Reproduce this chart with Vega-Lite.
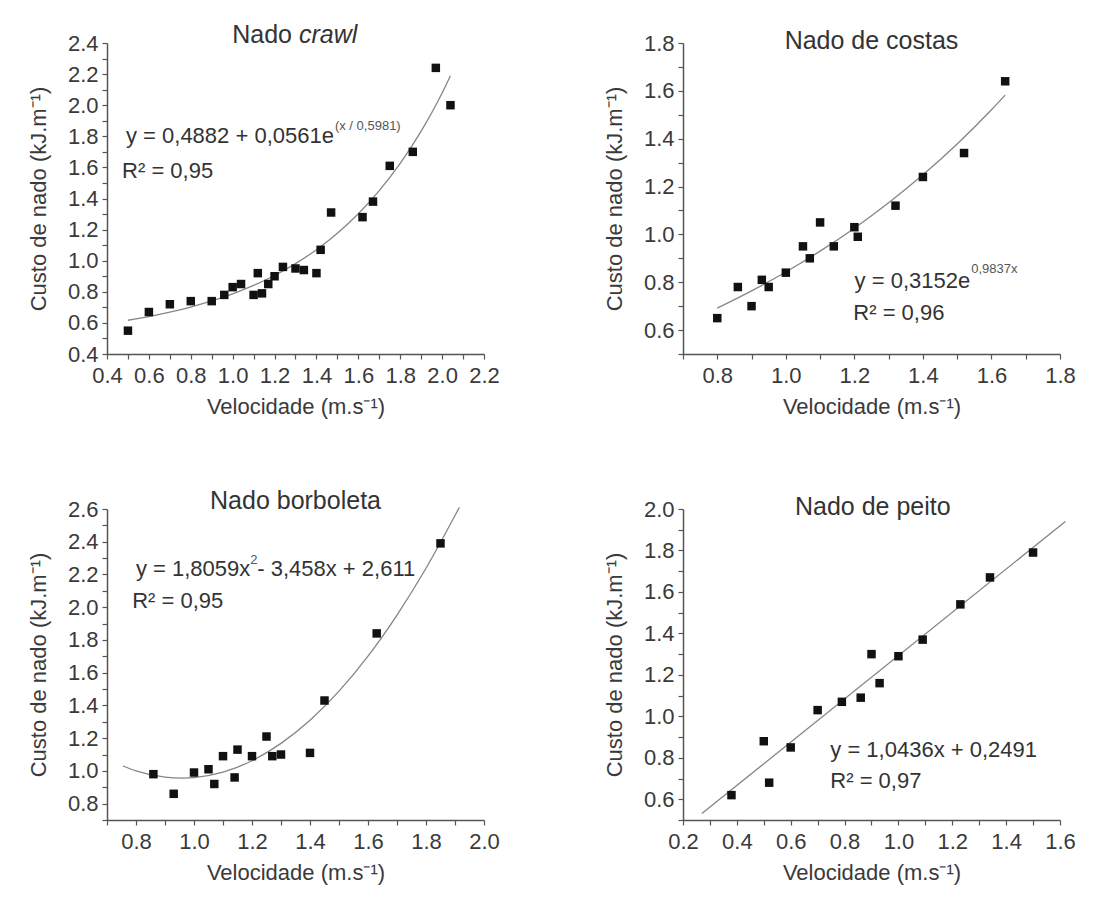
{
  "$schema": "https://vega.github.io/schema/vega-lite/v6.json",
  "background": "white",
  "padding": {"left": 27, "top": 23, "right": 5, "bottom": 5},
  "config": {
    "view": {"stroke": null},
    "font": "Liberation Sans",
    "axis": {
      "grid": false,
      "domainColor": "#555555",
      "domainWidth": 1.5,
      "tickColor": "#555555",
      "tickWidth": 1.2,
      "tickSize": 5,
      "labelFont": "Liberation Sans",
      "labelFontSize": 22,
      "labelColor": "#3a3a3a",
      "labelFlush": false,
      "labelOverlap": false,
      "titleFont": "Liberation Sans",
      "titleFontSize": 22,
      "titleFontWeight": "normal",
      "titleColor": "#3a3a3a"
    },
    "axisX": {"labelPadding": 6, "titlePadding": 10},
    "axisY": {"labelPadding": 4, "titlePadding": 17}
  },
  "datasets": {
    "crawl": [
      {"v": 0.50, "c": 0.55}, {"v": 0.60, "c": 0.67}, {"v": 0.70, "c": 0.72}, {"v": 0.80, "c": 0.74},
      {"v": 0.90, "c": 0.74}, {"v": 0.96, "c": 0.78}, {"v": 1.00, "c": 0.83}, {"v": 1.04, "c": 0.85},
      {"v": 1.10, "c": 0.78}, {"v": 1.12, "c": 0.92}, {"v": 1.14, "c": 0.79}, {"v": 1.17, "c": 0.85},
      {"v": 1.20, "c": 0.90}, {"v": 1.24, "c": 0.96}, {"v": 1.30, "c": 0.95}, {"v": 1.34, "c": 0.94},
      {"v": 1.40, "c": 0.92}, {"v": 1.42, "c": 1.07}, {"v": 1.47, "c": 1.31}, {"v": 1.62, "c": 1.28},
      {"v": 1.67, "c": 1.38}, {"v": 1.75, "c": 1.61}, {"v": 1.86, "c": 1.70}, {"v": 1.97, "c": 2.24},
      {"v": 2.04, "c": 2.00}
    ],
    "crawl_fit": [
      {"v": 0.5, "c": 0.617}, {"v": 0.6, "c": 0.641}, {"v": 0.7, "c": 0.669}, {"v": 0.8, "c": 0.702},
      {"v": 0.9, "c": 0.741}, {"v": 1.0, "c": 0.787}, {"v": 1.1, "c": 0.841}, {"v": 1.2, "c": 0.905},
      {"v": 1.3, "c": 0.981}, {"v": 1.4, "c": 1.071}, {"v": 1.5, "c": 1.177}, {"v": 1.6, "c": 1.302},
      {"v": 1.7, "c": 1.451}, {"v": 1.8, "c": 1.626}, {"v": 1.9, "c": 1.833}, {"v": 2.0, "c": 2.078},
      {"v": 2.04, "c": 2.19}
    ],
    "costas": [
      {"v": 0.80, "c": 0.65}, {"v": 0.86, "c": 0.78}, {"v": 0.90, "c": 0.70}, {"v": 0.93, "c": 0.81},
      {"v": 0.95, "c": 0.78}, {"v": 1.00, "c": 0.84}, {"v": 1.05, "c": 0.95}, {"v": 1.07, "c": 0.90},
      {"v": 1.10, "c": 1.05}, {"v": 1.14, "c": 0.95}, {"v": 1.20, "c": 1.03}, {"v": 1.21, "c": 0.99},
      {"v": 1.32, "c": 1.12}, {"v": 1.40, "c": 1.24}, {"v": 1.52, "c": 1.34}, {"v": 1.64, "c": 1.64}
    ],
    "costas_fit": [
      {"v": 0.8, "c": 0.692}, {"v": 0.9, "c": 0.764}, {"v": 1.0, "c": 0.843}, {"v": 1.1, "c": 0.930},
      {"v": 1.2, "c": 1.026}, {"v": 1.3, "c": 1.132}, {"v": 1.4, "c": 1.249}, {"v": 1.5, "c": 1.378},
      {"v": 1.6, "c": 1.521}, {"v": 1.64, "c": 1.582}
    ],
    "borboleta": [
      {"v": 0.86, "c": 0.98}, {"v": 0.93, "c": 0.86}, {"v": 1.00, "c": 0.99}, {"v": 1.05, "c": 1.01},
      {"v": 1.07, "c": 0.92}, {"v": 1.10, "c": 1.09}, {"v": 1.14, "c": 0.96}, {"v": 1.15, "c": 1.13},
      {"v": 1.20, "c": 1.09}, {"v": 1.25, "c": 1.21}, {"v": 1.27, "c": 1.09}, {"v": 1.30, "c": 1.10},
      {"v": 1.40, "c": 1.11}, {"v": 1.45, "c": 1.43}, {"v": 1.63, "c": 1.84}, {"v": 1.85, "c": 2.39}
    ],
    "borboleta_fit": [
      {"v": 0.755, "c": 1.03}, {"v": 0.8, "c": 1.000}, {"v": 0.9, "c": 0.962}, {"v": 0.96, "c": 0.956},
      {"v": 1.0, "c": 0.959}, {"v": 1.1, "c": 0.992}, {"v": 1.2, "c": 1.062}, {"v": 1.3, "c": 1.168},
      {"v": 1.4, "c": 1.309}, {"v": 1.5, "c": 1.487}, {"v": 1.6, "c": 1.701}, {"v": 1.7, "c": 1.952},
      {"v": 1.8, "c": 2.238}, {"v": 1.9, "c": 2.560}, {"v": 1.915, "c": 2.61}
    ],
    "peito": [
      {"v": 0.38, "c": 0.62}, {"v": 0.50, "c": 0.88}, {"v": 0.52, "c": 0.68}, {"v": 0.60, "c": 0.85},
      {"v": 0.70, "c": 1.03}, {"v": 0.79, "c": 1.07}, {"v": 0.86, "c": 1.09}, {"v": 0.90, "c": 1.30},
      {"v": 0.93, "c": 1.16}, {"v": 1.00, "c": 1.29}, {"v": 1.09, "c": 1.37}, {"v": 1.23, "c": 1.54},
      {"v": 1.34, "c": 1.67}, {"v": 1.50, "c": 1.79}
    ],
    "peito_fit": [
      {"v": 0.27, "c": 0.531}, {"v": 1.62, "c": 1.940}
    ]
  },
  "columns": 2,
  "bounds": "flush",
  "spacing": {"row": 155, "column": 199},
  "concat": [
    {
      "width": 377,
      "height": 311,
      "layer": [
        {"data": {"name": "crawl_fit"}, "mark": {"type": "line", "color": "#858585", "strokeWidth": 1.3, "interpolate": "monotone"},
         "encoding": {
           "x": {"field": "v", "type": "quantitative", "scale": {"domain": [0.4, 2.2], "nice": false, "zero": false}, "axis": {"title": "Velocidade (m.s⁻¹)", "values": [0.4,0.5,0.6,0.7,0.8,0.9,1.0,1.1,1.2,1.3,1.4,1.5,1.6,1.7,1.8,1.9,2.0,2.1,2.2], "labelExpr": "round(datum.value*10) % 2 == 0 ? format(datum.value, '.1f') : ''"}},
           "y": {"field": "c", "type": "quantitative", "scale": {"domain": [0.4, 2.4], "nice": false, "zero": false}, "axis": {"title": "Custo de nado (kJ.m⁻¹)", "values": [0.4,0.5,0.6,0.7,0.8,0.9,1.0,1.1,1.2,1.3,1.4,1.5,1.6,1.7,1.8,1.9,2.0,2.1,2.2,2.3,2.4], "labelExpr": "round(datum.value*10) % 2 == 0 ? format(datum.value, '.1f') : ''"}}
         }},
        {"data": {"name": "crawl"}, "mark": {"type": "square", "size": 72, "color": "#111111", "opacity": 1},
         "encoding": {
           "x": {"field": "v", "type": "quantitative", "scale": {"domain": [0.4, 2.2], "nice": false, "zero": false}, "axis": {"title": "Velocidade (m.s⁻¹)", "values": [0.4,0.5,0.6,0.7,0.8,0.9,1.0,1.1,1.2,1.3,1.4,1.5,1.6,1.7,1.8,1.9,2.0,2.1,2.2], "labelExpr": "round(datum.value*10) % 2 == 0 ? format(datum.value, '.1f') : ''"}},
           "y": {"field": "c", "type": "quantitative", "scale": {"domain": [0.4, 2.4], "nice": false, "zero": false}, "axis": {"title": "Custo de nado (kJ.m⁻¹)", "values": [0.4,0.5,0.6,0.7,0.8,0.9,1.0,1.1,1.2,1.3,1.4,1.5,1.6,1.7,1.8,1.9,2.0,2.1,2.2,2.3,2.4], "labelExpr": "round(datum.value*10) % 2 == 0 ? format(datum.value, '.1f') : ''"}}
         }},
        {"data": {"values": [{"label": "Nado"}]}, "mark": {"type": "text", "align": "right", "baseline": "alphabetic", "dx": -3.5, "fontSize": 25, "font": "Liberation Sans", "color": "#333333"},
         "encoding": {"text": {"field": "label"},
           "x": {"datum": 1.30, "scale": {"domain": [0.4, 2.2], "nice": false, "zero": false}, "axis": {"title": "Velocidade (m.s⁻¹)", "values": [0.4,0.5,0.6,0.7,0.8,0.9,1.0,1.1,1.2,1.3,1.4,1.5,1.6,1.7,1.8,1.9,2.0,2.1,2.2], "labelExpr": "round(datum.value*10) % 2 == 0 ? format(datum.value, '.1f') : ''"}},
           "y": {"datum": 2.4, "scale": {"domain": [0.4, 2.4], "nice": false, "zero": false}, "axis": {"title": "Custo de nado (kJ.m⁻¹)", "values": [0.4,0.5,0.6,0.7,0.8,0.9,1.0,1.1,1.2,1.3,1.4,1.5,1.6,1.7,1.8,1.9,2.0,2.1,2.2,2.3,2.4], "labelExpr": "round(datum.value*10) % 2 == 0 ? format(datum.value, '.1f') : ''"}}}},
        {"data": {"values": [{"label": "crawl"}]}, "mark": {"type": "text", "align": "left", "baseline": "alphabetic", "dx": 3.5, "fontSize": 25, "fontStyle": "italic", "font": "Liberation Sans", "color": "#333333"},
         "encoding": {"text": {"field": "label"},
           "x": {"datum": 1.30, "scale": {"domain": [0.4, 2.2], "nice": false, "zero": false}, "axis": {"title": "Velocidade (m.s⁻¹)", "values": [0.4,0.5,0.6,0.7,0.8,0.9,1.0,1.1,1.2,1.3,1.4,1.5,1.6,1.7,1.8,1.9,2.0,2.1,2.2], "labelExpr": "round(datum.value*10) % 2 == 0 ? format(datum.value, '.1f') : ''"}},
           "y": {"datum": 2.4, "scale": {"domain": [0.4, 2.4], "nice": false, "zero": false}, "axis": {"title": "Custo de nado (kJ.m⁻¹)", "values": [0.4,0.5,0.6,0.7,0.8,0.9,1.0,1.1,1.2,1.3,1.4,1.5,1.6,1.7,1.8,1.9,2.0,2.1,2.2,2.3,2.4], "labelExpr": "round(datum.value*10) % 2 == 0 ? format(datum.value, '.1f') : ''"}}}},
        {"data": {"values": [{"label": "y = 0,4882 + 0,0561e"}]}, "mark": {"type": "text", "align": "right", "baseline": "alphabetic", "fontSize": 22, "font": "Liberation Sans", "color": "#333333"},
         "encoding": {"text": {"field": "label"},
           "x": {"datum": 1.4835, "scale": {"domain": [0.4, 2.2], "nice": false, "zero": false}, "axis": {"title": "Velocidade (m.s⁻¹)", "values": [0.4,0.5,0.6,0.7,0.8,0.9,1.0,1.1,1.2,1.3,1.4,1.5,1.6,1.7,1.8,1.9,2.0,2.1,2.2], "labelExpr": "round(datum.value*10) % 2 == 0 ? format(datum.value, '.1f') : ''"}},
           "y": {"datum": 1.757, "scale": {"domain": [0.4, 2.4], "nice": false, "zero": false}, "axis": {"title": "Custo de nado (kJ.m⁻¹)", "values": [0.4,0.5,0.6,0.7,0.8,0.9,1.0,1.1,1.2,1.3,1.4,1.5,1.6,1.7,1.8,1.9,2.0,2.1,2.2,2.3,2.4], "labelExpr": "round(datum.value*10) % 2 == 0 ? format(datum.value, '.1f') : ''"}}}},
        {"data": {"values": [{"label": "(x / 0,5981)"}]}, "mark": {"type": "text", "align": "left", "baseline": "alphabetic", "dx": 1, "dy": -13, "fontSize": 13, "font": "Liberation Sans", "color": "#555555"},
         "encoding": {"text": {"field": "label"},
           "x": {"datum": 1.4835, "scale": {"domain": [0.4, 2.2], "nice": false, "zero": false}, "axis": {"title": "Velocidade (m.s⁻¹)", "values": [0.4,0.5,0.6,0.7,0.8,0.9,1.0,1.1,1.2,1.3,1.4,1.5,1.6,1.7,1.8,1.9,2.0,2.1,2.2], "labelExpr": "round(datum.value*10) % 2 == 0 ? format(datum.value, '.1f') : ''"}},
           "y": {"datum": 1.757, "scale": {"domain": [0.4, 2.4], "nice": false, "zero": false}, "axis": {"title": "Custo de nado (kJ.m⁻¹)", "values": [0.4,0.5,0.6,0.7,0.8,0.9,1.0,1.1,1.2,1.3,1.4,1.5,1.6,1.7,1.8,1.9,2.0,2.1,2.2,2.3,2.4], "labelExpr": "round(datum.value*10) % 2 == 0 ? format(datum.value, '.1f') : ''"}}}},
        {"data": {"values": [{"label": "R² = 0,95"}]}, "mark": {"type": "text", "align": "left", "baseline": "alphabetic", "fontSize": 22, "font": "Liberation Sans", "color": "#333333"},
         "encoding": {"text": {"field": "label"},
           "x": {"datum": 0.472, "scale": {"domain": [0.4, 2.2], "nice": false, "zero": false}, "axis": {"title": "Velocidade (m.s⁻¹)", "values": [0.4,0.5,0.6,0.7,0.8,0.9,1.0,1.1,1.2,1.3,1.4,1.5,1.6,1.7,1.8,1.9,2.0,2.1,2.2], "labelExpr": "round(datum.value*10) % 2 == 0 ? format(datum.value, '.1f') : ''"}},
           "y": {"datum": 1.532, "scale": {"domain": [0.4, 2.4], "nice": false, "zero": false}, "axis": {"title": "Custo de nado (kJ.m⁻¹)", "values": [0.4,0.5,0.6,0.7,0.8,0.9,1.0,1.1,1.2,1.3,1.4,1.5,1.6,1.7,1.8,1.9,2.0,2.1,2.2,2.3,2.4], "labelExpr": "round(datum.value*10) % 2 == 0 ? format(datum.value, '.1f') : ''"}}}}
      ]
    },
    {
      "width": 377,
      "height": 311,
      "layer": [
        {"data": {"name": "costas_fit"}, "mark": {"type": "line", "color": "#858585", "strokeWidth": 1.3, "interpolate": "monotone"},
         "encoding": {
           "x": {"field": "v", "type": "quantitative", "scale": {"domain": [0.7, 1.8], "nice": false, "zero": false}, "axis": {"title": "Velocidade (m.s⁻¹)", "values": [0.7,0.8,0.9,1.0,1.1,1.2,1.3,1.4,1.5,1.6,1.7,1.8], "labelExpr": "round(datum.value*10) % 2 == 0 ? format(datum.value, '.1f') : ''"}},
           "y": {"field": "c", "type": "quantitative", "scale": {"domain": [0.5, 1.8], "nice": false, "zero": false}, "axis": {"title": "Custo de nado (kJ.m⁻¹)", "values": [0.5,0.6,0.7,0.8,0.9,1.0,1.1,1.2,1.3,1.4,1.5,1.6,1.7,1.8], "labelExpr": "round(datum.value*10) % 2 == 0 ? format(datum.value, '.1f') : ''"}}
         }},
        {"data": {"name": "costas"}, "mark": {"type": "square", "size": 72, "color": "#111111", "opacity": 1},
         "encoding": {
           "x": {"field": "v", "type": "quantitative", "scale": {"domain": [0.7, 1.8], "nice": false, "zero": false}, "axis": {"title": "Velocidade (m.s⁻¹)", "values": [0.7,0.8,0.9,1.0,1.1,1.2,1.3,1.4,1.5,1.6,1.7,1.8], "labelExpr": "round(datum.value*10) % 2 == 0 ? format(datum.value, '.1f') : ''"}},
           "y": {"field": "c", "type": "quantitative", "scale": {"domain": [0.5, 1.8], "nice": false, "zero": false}, "axis": {"title": "Custo de nado (kJ.m⁻¹)", "values": [0.5,0.6,0.7,0.8,0.9,1.0,1.1,1.2,1.3,1.4,1.5,1.6,1.7,1.8], "labelExpr": "round(datum.value*10) % 2 == 0 ? format(datum.value, '.1f') : ''"}}
         }},
        {"data": {"values": [{"label": "Nado de costas"}]}, "mark": {"type": "text", "align": "center", "baseline": "alphabetic", "fontSize": 25, "font": "Liberation Sans", "color": "#333333"},
         "encoding": {"text": {"field": "label"},
           "x": {"datum": 1.25, "scale": {"domain": [0.7, 1.8], "nice": false, "zero": false}, "axis": {"title": "Velocidade (m.s⁻¹)", "values": [0.7,0.8,0.9,1.0,1.1,1.2,1.3,1.4,1.5,1.6,1.7,1.8], "labelExpr": "round(datum.value*10) % 2 == 0 ? format(datum.value, '.1f') : ''"}},
           "y": {"datum": 1.775, "scale": {"domain": [0.5, 1.8], "nice": false, "zero": false}, "axis": {"title": "Custo de nado (kJ.m⁻¹)", "values": [0.5,0.6,0.7,0.8,0.9,1.0,1.1,1.2,1.3,1.4,1.5,1.6,1.7,1.8], "labelExpr": "round(datum.value*10) % 2 == 0 ? format(datum.value, '.1f') : ''"}}}},
        {"data": {"values": [{"label": "y = 0,3152e"}]}, "mark": {"type": "text", "align": "right", "baseline": "alphabetic", "fontSize": 22, "font": "Liberation Sans", "color": "#333333"},
         "encoding": {"text": {"field": "label"},
           "x": {"datum": 1.538, "scale": {"domain": [0.7, 1.8], "nice": false, "zero": false}, "axis": {"title": "Velocidade (m.s⁻¹)", "values": [0.7,0.8,0.9,1.0,1.1,1.2,1.3,1.4,1.5,1.6,1.7,1.8], "labelExpr": "round(datum.value*10) % 2 == 0 ? format(datum.value, '.1f') : ''"}},
           "y": {"datum": 0.776, "scale": {"domain": [0.5, 1.8], "nice": false, "zero": false}, "axis": {"title": "Custo de nado (kJ.m⁻¹)", "values": [0.5,0.6,0.7,0.8,0.9,1.0,1.1,1.2,1.3,1.4,1.5,1.6,1.7,1.8], "labelExpr": "round(datum.value*10) % 2 == 0 ? format(datum.value, '.1f') : ''"}}}},
        {"data": {"values": [{"label": "0,9837x"}]}, "mark": {"type": "text", "align": "left", "baseline": "alphabetic", "dx": 1, "dy": -15, "fontSize": 13, "font": "Liberation Sans", "color": "#555555"},
         "encoding": {"text": {"field": "label"},
           "x": {"datum": 1.538, "scale": {"domain": [0.7, 1.8], "nice": false, "zero": false}, "axis": {"title": "Velocidade (m.s⁻¹)", "values": [0.7,0.8,0.9,1.0,1.1,1.2,1.3,1.4,1.5,1.6,1.7,1.8], "labelExpr": "round(datum.value*10) % 2 == 0 ? format(datum.value, '.1f') : ''"}},
           "y": {"datum": 0.776, "scale": {"domain": [0.5, 1.8], "nice": false, "zero": false}, "axis": {"title": "Custo de nado (kJ.m⁻¹)", "values": [0.5,0.6,0.7,0.8,0.9,1.0,1.1,1.2,1.3,1.4,1.5,1.6,1.7,1.8], "labelExpr": "round(datum.value*10) % 2 == 0 ? format(datum.value, '.1f') : ''"}}}},
        {"data": {"values": [{"label": "R² = 0,96"}]}, "mark": {"type": "text", "align": "left", "baseline": "alphabetic", "fontSize": 22, "font": "Liberation Sans", "color": "#333333"},
         "encoding": {"text": {"field": "label"},
           "x": {"datum": 1.197, "scale": {"domain": [0.7, 1.8], "nice": false, "zero": false}, "axis": {"title": "Velocidade (m.s⁻¹)", "values": [0.7,0.8,0.9,1.0,1.1,1.2,1.3,1.4,1.5,1.6,1.7,1.8], "labelExpr": "round(datum.value*10) % 2 == 0 ? format(datum.value, '.1f') : ''"}},
           "y": {"datum": 0.643, "scale": {"domain": [0.5, 1.8], "nice": false, "zero": false}, "axis": {"title": "Custo de nado (kJ.m⁻¹)", "values": [0.5,0.6,0.7,0.8,0.9,1.0,1.1,1.2,1.3,1.4,1.5,1.6,1.7,1.8], "labelExpr": "round(datum.value*10) % 2 == 0 ? format(datum.value, '.1f') : ''"}}}}
      ]
    },
    {
      "width": 377,
      "height": 311,
      "layer": [
        {"data": {"name": "borboleta_fit"}, "mark": {"type": "line", "color": "#858585", "strokeWidth": 1.3, "interpolate": "monotone"},
         "encoding": {
           "x": {"field": "v", "type": "quantitative", "scale": {"domain": [0.7, 2.0], "nice": false, "zero": false}, "axis": {"title": "Velocidade (m.s⁻¹)", "values": [0.7,0.8,0.9,1.0,1.1,1.2,1.3,1.4,1.5,1.6,1.7,1.8,1.9,2.0], "labelExpr": "round(datum.value*10) % 2 == 0 ? format(datum.value, '.1f') : ''"}},
           "y": {"field": "c", "type": "quantitative", "scale": {"domain": [0.7, 2.6], "nice": false, "zero": false}, "axis": {"title": "Custo de nado (kJ.m⁻¹)", "values": [0.7,0.8,0.9,1.0,1.1,1.2,1.3,1.4,1.5,1.6,1.7,1.8,1.9,2.0,2.1,2.2,2.3,2.4,2.5,2.6], "labelExpr": "round(datum.value*10) % 2 == 0 ? format(datum.value, '.1f') : ''"}}
         }},
        {"data": {"name": "borboleta"}, "mark": {"type": "square", "size": 72, "color": "#111111", "opacity": 1},
         "encoding": {
           "x": {"field": "v", "type": "quantitative", "scale": {"domain": [0.7, 2.0], "nice": false, "zero": false}, "axis": {"title": "Velocidade (m.s⁻¹)", "values": [0.7,0.8,0.9,1.0,1.1,1.2,1.3,1.4,1.5,1.6,1.7,1.8,1.9,2.0], "labelExpr": "round(datum.value*10) % 2 == 0 ? format(datum.value, '.1f') : ''"}},
           "y": {"field": "c", "type": "quantitative", "scale": {"domain": [0.7, 2.6], "nice": false, "zero": false}, "axis": {"title": "Custo de nado (kJ.m⁻¹)", "values": [0.7,0.8,0.9,1.0,1.1,1.2,1.3,1.4,1.5,1.6,1.7,1.8,1.9,2.0,2.1,2.2,2.3,2.4,2.5,2.6], "labelExpr": "round(datum.value*10) % 2 == 0 ? format(datum.value, '.1f') : ''"}}
         }},
        {"data": {"values": [{"label": "Nado borboleta"}]}, "mark": {"type": "text", "align": "center", "baseline": "alphabetic", "fontSize": 25, "font": "Liberation Sans", "color": "#333333"},
         "encoding": {"text": {"field": "label"},
           "x": {"datum": 1.35, "scale": {"domain": [0.7, 2.0], "nice": false, "zero": false}, "axis": {"title": "Velocidade (m.s⁻¹)", "values": [0.7,0.8,0.9,1.0,1.1,1.2,1.3,1.4,1.5,1.6,1.7,1.8,1.9,2.0], "labelExpr": "round(datum.value*10) % 2 == 0 ? format(datum.value, '.1f') : ''"}},
           "y": {"datum": 2.6, "scale": {"domain": [0.7, 2.6], "nice": false, "zero": false}, "axis": {"title": "Custo de nado (kJ.m⁻¹)", "values": [0.7,0.8,0.9,1.0,1.1,1.2,1.3,1.4,1.5,1.6,1.7,1.8,1.9,2.0,2.1,2.2,2.3,2.4,2.5,2.6], "labelExpr": "round(datum.value*10) % 2 == 0 ? format(datum.value, '.1f') : ''"}}}},
        {"data": {"values": [{"label": "y = 1,8059x"}]}, "mark": {"type": "text", "align": "right", "baseline": "alphabetic", "fontSize": 22, "font": "Liberation Sans", "color": "#333333"},
         "encoding": {"text": {"field": "label"},
           "x": {"datum": 1.194, "scale": {"domain": [0.7, 2.0], "nice": false, "zero": false}, "axis": {"title": "Velocidade (m.s⁻¹)", "values": [0.7,0.8,0.9,1.0,1.1,1.2,1.3,1.4,1.5,1.6,1.7,1.8,1.9,2.0], "labelExpr": "round(datum.value*10) % 2 == 0 ? format(datum.value, '.1f') : ''"}},
           "y": {"datum": 2.19, "scale": {"domain": [0.7, 2.6], "nice": false, "zero": false}, "axis": {"title": "Custo de nado (kJ.m⁻¹)", "values": [0.7,0.8,0.9,1.0,1.1,1.2,1.3,1.4,1.5,1.6,1.7,1.8,1.9,2.0,2.1,2.2,2.3,2.4,2.5,2.6], "labelExpr": "round(datum.value*10) % 2 == 0 ? format(datum.value, '.1f') : ''"}}}},
        {"data": {"values": [{"label": "2"}]}, "mark": {"type": "text", "align": "left", "baseline": "alphabetic", "dy": -12, "fontSize": 13, "font": "Liberation Sans", "color": "#555555"},
         "encoding": {"text": {"field": "label"},
           "x": {"datum": 1.194, "scale": {"domain": [0.7, 2.0], "nice": false, "zero": false}, "axis": {"title": "Velocidade (m.s⁻¹)", "values": [0.7,0.8,0.9,1.0,1.1,1.2,1.3,1.4,1.5,1.6,1.7,1.8,1.9,2.0], "labelExpr": "round(datum.value*10) % 2 == 0 ? format(datum.value, '.1f') : ''"}},
           "y": {"datum": 2.19, "scale": {"domain": [0.7, 2.6], "nice": false, "zero": false}, "axis": {"title": "Custo de nado (kJ.m⁻¹)", "values": [0.7,0.8,0.9,1.0,1.1,1.2,1.3,1.4,1.5,1.6,1.7,1.8,1.9,2.0,2.1,2.2,2.3,2.4,2.5,2.6], "labelExpr": "round(datum.value*10) % 2 == 0 ? format(datum.value, '.1f') : ''"}}}},
        {"data": {"values": [{"label": "- 3,458x + 2,611"}]}, "mark": {"type": "text", "align": "left", "baseline": "alphabetic", "dx": 7, "fontSize": 22, "font": "Liberation Sans", "color": "#333333"},
         "encoding": {"text": {"field": "label"},
           "x": {"datum": 1.194, "scale": {"domain": [0.7, 2.0], "nice": false, "zero": false}, "axis": {"title": "Velocidade (m.s⁻¹)", "values": [0.7,0.8,0.9,1.0,1.1,1.2,1.3,1.4,1.5,1.6,1.7,1.8,1.9,2.0], "labelExpr": "round(datum.value*10) % 2 == 0 ? format(datum.value, '.1f') : ''"}},
           "y": {"datum": 2.19, "scale": {"domain": [0.7, 2.6], "nice": false, "zero": false}, "axis": {"title": "Custo de nado (kJ.m⁻¹)", "values": [0.7,0.8,0.9,1.0,1.1,1.2,1.3,1.4,1.5,1.6,1.7,1.8,1.9,2.0,2.1,2.2,2.3,2.4,2.5,2.6], "labelExpr": "round(datum.value*10) % 2 == 0 ? format(datum.value, '.1f') : ''"}}}},
        {"data": {"values": [{"label": "R² = 0,95"}]}, "mark": {"type": "text", "align": "left", "baseline": "alphabetic", "fontSize": 22, "font": "Liberation Sans", "color": "#333333"},
         "encoding": {"text": {"field": "label"},
           "x": {"datum": 0.787, "scale": {"domain": [0.7, 2.0], "nice": false, "zero": false}, "axis": {"title": "Velocidade (m.s⁻¹)", "values": [0.7,0.8,0.9,1.0,1.1,1.2,1.3,1.4,1.5,1.6,1.7,1.8,1.9,2.0], "labelExpr": "round(datum.value*10) % 2 == 0 ? format(datum.value, '.1f') : ''"}},
           "y": {"datum": 1.996, "scale": {"domain": [0.7, 2.6], "nice": false, "zero": false}, "axis": {"title": "Custo de nado (kJ.m⁻¹)", "values": [0.7,0.8,0.9,1.0,1.1,1.2,1.3,1.4,1.5,1.6,1.7,1.8,1.9,2.0,2.1,2.2,2.3,2.4,2.5,2.6], "labelExpr": "round(datum.value*10) % 2 == 0 ? format(datum.value, '.1f') : ''"}}}}
      ]
    },
    {
      "width": 377,
      "height": 311,
      "layer": [
        {"data": {"name": "peito_fit"}, "mark": {"type": "line", "color": "#858585", "strokeWidth": 1.3},
         "encoding": {
           "x": {"field": "v", "type": "quantitative", "scale": {"domain": [0.2, 1.6], "nice": false, "zero": false}, "axis": {"title": "Velocidade (m.s⁻¹)", "values": [0.2,0.3,0.4,0.5,0.6,0.7,0.8,0.9,1.0,1.1,1.2,1.3,1.4,1.5,1.6], "labelExpr": "round(datum.value*10) % 2 == 0 ? format(datum.value, '.1f') : ''"}},
           "y": {"field": "c", "type": "quantitative", "scale": {"domain": [0.5, 2.0], "nice": false, "zero": false}, "axis": {"title": "Custo de nado (kJ.m⁻¹)", "values": [0.5,0.6,0.7,0.8,0.9,1.0,1.1,1.2,1.3,1.4,1.5,1.6,1.7,1.8,1.9,2.0], "labelExpr": "round(datum.value*10) % 2 == 0 ? format(datum.value, '.1f') : ''"}}
         }},
        {"data": {"name": "peito"}, "mark": {"type": "square", "size": 72, "color": "#111111", "opacity": 1},
         "encoding": {
           "x": {"field": "v", "type": "quantitative", "scale": {"domain": [0.2, 1.6], "nice": false, "zero": false}, "axis": {"title": "Velocidade (m.s⁻¹)", "values": [0.2,0.3,0.4,0.5,0.6,0.7,0.8,0.9,1.0,1.1,1.2,1.3,1.4,1.5,1.6], "labelExpr": "round(datum.value*10) % 2 == 0 ? format(datum.value, '.1f') : ''"}},
           "y": {"field": "c", "type": "quantitative", "scale": {"domain": [0.5, 2.0], "nice": false, "zero": false}, "axis": {"title": "Custo de nado (kJ.m⁻¹)", "values": [0.5,0.6,0.7,0.8,0.9,1.0,1.1,1.2,1.3,1.4,1.5,1.6,1.7,1.8,1.9,2.0], "labelExpr": "round(datum.value*10) % 2 == 0 ? format(datum.value, '.1f') : ''"}}
         }},
        {"data": {"values": [{"label": "Nado de peito"}]}, "mark": {"type": "text", "align": "center", "baseline": "alphabetic", "fontSize": 25, "font": "Liberation Sans", "color": "#333333"},
         "encoding": {"text": {"field": "label"},
           "x": {"datum": 0.905, "scale": {"domain": [0.2, 1.6], "nice": false, "zero": false}, "axis": {"title": "Velocidade (m.s⁻¹)", "values": [0.2,0.3,0.4,0.5,0.6,0.7,0.8,0.9,1.0,1.1,1.2,1.3,1.4,1.5,1.6], "labelExpr": "round(datum.value*10) % 2 == 0 ? format(datum.value, '.1f') : ''"}},
           "y": {"datum": 1.971, "scale": {"domain": [0.5, 2.0], "nice": false, "zero": false}, "axis": {"title": "Custo de nado (kJ.m⁻¹)", "values": [0.5,0.6,0.7,0.8,0.9,1.0,1.1,1.2,1.3,1.4,1.5,1.6,1.7,1.8,1.9,2.0], "labelExpr": "round(datum.value*10) % 2 == 0 ? format(datum.value, '.1f') : ''"}}}},
        {"data": {"values": [{"label": "y = 1,0436x + 0,2491"}]}, "mark": {"type": "text", "align": "left", "baseline": "alphabetic", "fontSize": 22, "font": "Liberation Sans", "color": "#333333"},
         "encoding": {"text": {"field": "label"},
           "x": {"datum": 0.747, "scale": {"domain": [0.2, 1.6], "nice": false, "zero": false}, "axis": {"title": "Velocidade (m.s⁻¹)", "values": [0.2,0.3,0.4,0.5,0.6,0.7,0.8,0.9,1.0,1.1,1.2,1.3,1.4,1.5,1.6], "labelExpr": "round(datum.value*10) % 2 == 0 ? format(datum.value, '.1f') : ''"}},
           "y": {"datum": 0.806, "scale": {"domain": [0.5, 2.0], "nice": false, "zero": false}, "axis": {"title": "Custo de nado (kJ.m⁻¹)", "values": [0.5,0.6,0.7,0.8,0.9,1.0,1.1,1.2,1.3,1.4,1.5,1.6,1.7,1.8,1.9,2.0], "labelExpr": "round(datum.value*10) % 2 == 0 ? format(datum.value, '.1f') : ''"}}}},
        {"data": {"values": [{"label": "R² = 0,97"}]}, "mark": {"type": "text", "align": "left", "baseline": "alphabetic", "fontSize": 22, "font": "Liberation Sans", "color": "#333333"},
         "encoding": {"text": {"field": "label"},
           "x": {"datum": 0.747, "scale": {"domain": [0.2, 1.6], "nice": false, "zero": false}, "axis": {"title": "Velocidade (m.s⁻¹)", "values": [0.2,0.3,0.4,0.5,0.6,0.7,0.8,0.9,1.0,1.1,1.2,1.3,1.4,1.5,1.6], "labelExpr": "round(datum.value*10) % 2 == 0 ? format(datum.value, '.1f') : ''"}},
           "y": {"datum": 0.654, "scale": {"domain": [0.5, 2.0], "nice": false, "zero": false}, "axis": {"title": "Custo de nado (kJ.m⁻¹)", "values": [0.5,0.6,0.7,0.8,0.9,1.0,1.1,1.2,1.3,1.4,1.5,1.6,1.7,1.8,1.9,2.0], "labelExpr": "round(datum.value*10) % 2 == 0 ? format(datum.value, '.1f') : ''"}}}}
      ]
    }
  ]
}
